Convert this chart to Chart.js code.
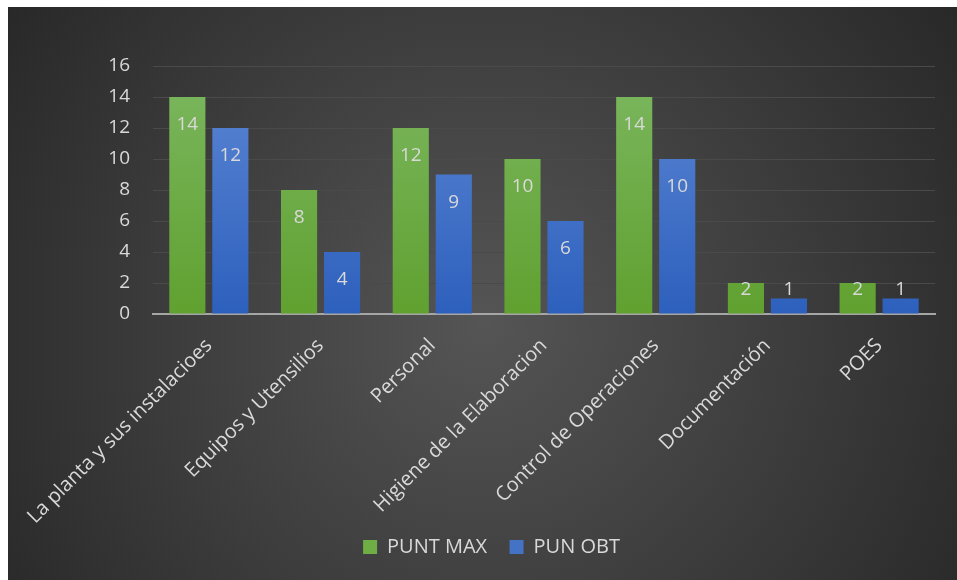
<!DOCTYPE html>
<html>
<head>
  <title>Puntaje BPM</title>
  <style>
    body { margin: 0; background: #fff; }
    #wrap { position: absolute; left: 8px; top: 7px; width: 949px; height: 573px; }
  </style>
</head>
<body>
  <div id="wrap"><canvas id="chart"></canvas></div>
  <script src="https://cdn.jsdelivr.net/npm/chart.js"></script>
  <script>
    const categories = ['La planta y sus instalacioes', 'Equipos y Utensilios', 'Personal',
      'Higiene de la Elaboracion', 'Control de Operaciones', 'Documentación', 'POES'];
    const puntMax = [14, 8, 12, 10, 14, 2, 2];
    const punObt = [12, 4, 9, 6, 10, 1, 1];
    const yTicks = [0, 2, 4, 6, 8, 10, 12, 14, 16];

    const FONT = '"Open Sans", sans-serif';
    const TEXT = '#d9d9d9';

    function barGradient(ctx, top, bottom) {
      const area = ctx.chart.chartArea;
      if (!area) return bottom;
      const g = ctx.chart.ctx.createLinearGradient(0, area.top, 0, area.bottom);
      g.addColorStop(0, top);
      g.addColorStop(1, bottom);
      return g;
    }

    // dark radial background
    const bgPlugin = {
      id: 'bg',
      afterLayout(chart) {
        // legend sits a bit right of the canvas centre in the original
        chart.legend.left += 20;
        chart.legend.right += 20;
      },
      beforeDraw(chart) {
        const c = chart.ctx, w = chart.width, h = chart.height;
        const g = c.createRadialGradient(w * 0.5, h * 0.55, 0, w * 0.5, h * 0.55, w * 0.62);
        g.addColorStop(0, '#555555');
        g.addColorStop(1, '#272727');
        c.save();
        c.fillStyle = g;
        c.fillRect(0, 0, w, h);
        c.restore();
      }
    };

    // value labels inside the top of each bar
    const labelPlugin = {
      id: 'vals',
      afterDatasetsDraw(chart) {
        const c = chart.ctx;
        const base = chart.scales.y.getPixelForValue(0);
        c.save();
        c.font = '19px ' + FONT;
        c.fillStyle = TEXT;
        c.textAlign = 'center';
        c.textBaseline = 'middle';
        chart.data.datasets.forEach((ds, i) => {
          chart.getDatasetMeta(i).data.forEach((bar, j) => {
            const y = Math.min(bar.y + 28, base - 24);
            c.fillText(String(ds.data[j]), bar.x, y);
          });
        });
        c.restore();
      }
    };

    new Chart(document.getElementById('chart'), {
      type: 'bar',
      data: {
        labels: categories,
        datasets: [
          {
            label: 'PUNT MAX',
            data: puntMax,
            backgroundColor: ctx => barGradient(ctx, '#7cb760', '#60a130')
          },
          {
            label: 'PUN OBT',
            data: punObt,
            backgroundColor: ctx => barGradient(ctx, '#5d87d4', '#2d60bd')
          }
        ]
      },
      options: {
        responsive: true,
        maintainAspectRatio: false,
        animation: false,
        categoryPercentage: 0.77,
        barPercentage: 0.84,
        layout: { padding: { top: 59, right: 22, left: 0, bottom: 13 } },
        plugins: {
          tooltip: { enabled: false },
          legend: {
            position: 'bottom',
            labels: {
              color: TEXT,
              font: { family: FONT, size: 20 },
              boxWidth: 14,
              boxHeight: 14,
              padding: 12,
              generateLabels(chart) {
                const cols = ['#6fad45', '#4472c4'];
                return chart.data.datasets.map((ds, i) => ({
                  text: i === 0 ? ds.label + '  ' : ds.label,
                  fillStyle: cols[i], strokeStyle: cols[i],
                  lineWidth: 0, fontColor: TEXT, datasetIndex: i
                }));
              }
            }
          }
        },
        scales: {
          x: {
            afterFit(s) {
              s.height = 211;
              s.paddingLeft = 0;
              s.paddingRight = 0;
              s._computeLabelArea = () => undefined; // let long labels overflow
            },
            grid: { display: false, drawTicks: false },
            border: { color: '#a6a6a6', width: 2 },
            ticks: {
              color: TEXT,
              font: { family: FONT, size: 20 },
              maxRotation: 45,
              minRotation: 45,
              padding: 20
            }
          },
          y: {
            min: 0,
            max: 16,
            afterFit(s) { s.width = 145; },
            afterBuildTicks(s) { s.ticks = yTicks.map(v => ({ value: v })); },
            grid: { color: '#4a4a4a', lineWidth: 1, drawTicks: false },
            border: { display: false },
            ticks: {
              color: TEXT,
              font: { family: FONT, size: 19 },
              padding: 23
            }
          }
        }
      },
      plugins: [bgPlugin, labelPlugin]
    });
  </script>
</body>
</html>
